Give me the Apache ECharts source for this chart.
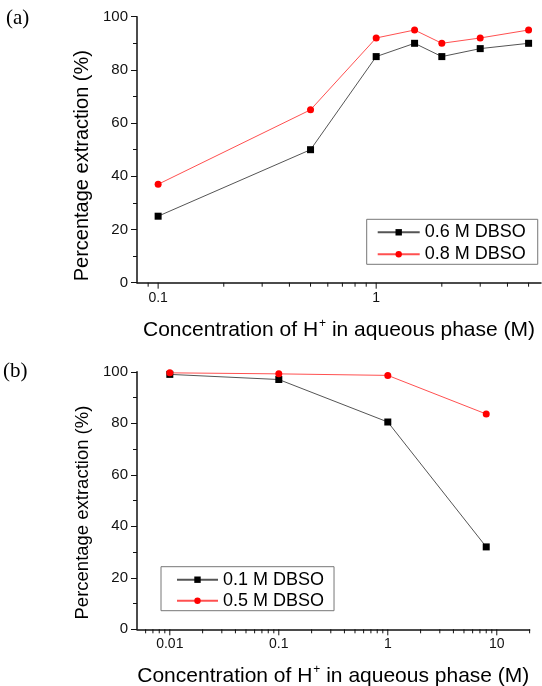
<!DOCTYPE html>
<html>
<head>
<meta charset="utf-8">
<script src="https://cdn.jsdelivr.net/npm/echarts@6/dist/echarts.min.js"></script>
<style>
html,body{margin:0;padding:0;background:#fff;}
#chart{width:542px;height:686px;}
</style>
</head>
<body>
<div id="chart"></div>
<script>
// ---- data ----
const xA = [0.1, 0.5, 1, 1.5, 2, 3, 5];
const seriesA06 = [25, 50, 85, 90, 85, 88, 90];
const seriesA08 = [37, 65, 92, 95, 90, 92, 95];
const xB = [0.01, 0.1, 1, 8];
const seriesB01 = [99, 97, 80.5, 32];
const seriesB05 = [99.6, 99.2, 98.6, 83.6];
const namesA = ['0.6 M DBSO', '0.8 M DBSO'];
const namesB = ['0.1 M DBSO', '0.5 M DBSO'];
const xTickLabelsA = [0.1, 1];
const xTickLabelsB = [0.01, 0.1, 1, 10];
const xTicksA = [0.09, 0.1, 0.2, 0.3, 0.4, 0.5, 0.6, 0.7, 0.8, 0.9, 1, 2, 3, 4, 5];
const xTicksB = [0.006, 0.007, 0.008, 0.009, 0.01, 0.02, 0.03, 0.04, 0.05, 0.06, 0.07, 0.08, 0.09,
                 0.1, 0.2, 0.3, 0.4, 0.5, 0.6, 0.7, 0.8, 0.9, 1, 2, 3, 4, 5, 6, 7, 8, 9, 10, 20];
const yTicks = [0, 20, 40, 60, 80, 100];
const xTitle = 'Concentration of H{sup|+} in aqueous phase (M)';
const yTitle = 'Percentage extraction (%)';

const chart = echarts.init(document.getElementById('chart'), null, {renderer: 'canvas'});
const FONT = 'Liberation Sans, Arial, sans-serif';

function isLabel(v, list) { return list.some(t => Math.abs(Math.log10(v) - Math.log10(t)) < 1e-6); }

function xAxisCfg(gridIndex, min, max, labels, nameGap, titleSize) {
  return {
    type: 'log', logBase: 10, gridIndex, min, max,
    axisLine: {lineStyle: {color: '#111', width: 1.5}},
    axisTick: {show: false},
    minorTick: {show: false},
    splitLine: {show: false},
    axisLabel: {
      fontFamily: FONT, fontSize: 14, color: '#111', margin: 8,
      showMinLabel: true, showMaxLabel: true,
      formatter: v => isLabel(v, labels) ? String(+v.toPrecision(6)) : ''
    },
    name: xTitle, nameLocation: 'middle', nameGap,
    nameTextStyle: {
      fontFamily: FONT, fontSize: titleSize, lineHeight: 26, color: '#000',
      rich: {sup: {fontFamily: FONT, fontSize: 12, lineHeight: 12, color: '#000', verticalAlign: 'top', padding: [0, 0, 0, 1]}}
    }
  };
}
function yAxisCfg(gridIndex, titleSize, shift) {
  return {
    type: 'value', gridIndex, min: yTicks[0], max: yTicks[yTicks.length - 1], interval: yTicks[1] - yTicks[0],
    axisLine: {show: true, lineStyle: {color: '#111', width: 1.5}},
    axisTick: {show: true, length: 6, lineStyle: {color: '#111', width: 1}},
    minorTick: {show: true, splitNumber: 2, length: 4, lineStyle: {color: '#111', width: 1}},
    splitLine: {show: false},
    minorSplitLine: {show: false},
    axisLabel: {fontFamily: FONT, fontSize: 15, color: '#111', margin: 9},
    name: yTitle, nameLocation: 'middle', nameGap: 42, nameRotate: 90,
    nameTextStyle: {fontFamily: FONT, fontSize: titleSize, color: '#000', padding: [0, shift, 0, 0]}
  };
}
function lineSeries(name, xs, ys, axisIdx, symbol, color, lineColor) {
  return {
    type: 'line', name, xAxisIndex: axisIdx, yAxisIndex: axisIdx,
    data: xs.map((x, i) => [x, ys[i]]),
    symbol, symbolSize: 7, showSymbol: true,
    lineStyle: {color: lineColor, width: 1},
    itemStyle: {color},
    emphasis: {disabled: true},
    animation: false, z: 3
  };
}
function tickSeries(ticks, axisIdx) {
  return {
    type: 'custom', xAxisIndex: axisIdx, yAxisIndex: axisIdx, silent: true, animation: false, clip: false,
    data: ticks.map(t => [t, 0]),
    renderItem: (params, api) => {
      const v = api.value(0);
      const major = Math.abs(Math.log10(v) - Math.round(Math.log10(v))) < 1e-6;
      const p = api.coord([v, 0]);
      const len = major ? 6 : 4;
      return {type: 'line', shape: {x1: p[0], y1: p[1], x2: p[0], y2: p[1] + len},
              style: {stroke: '#111', lineWidth: 1}};
    }
  };
}

const legendText = {fontFamily: FONT, fontSize: 18, color: '#000', lineHeight: 20};

const option = {
  backgroundColor: '#fff',
  animation: false,
  grid: [
    {left: 137, top: 16.7, right: 1, bottom: 403.3, containLabel: false, outerBoundsMode: 'none'},
    {left: 137, top: 371.8, right: 12.4, bottom: 56.7, containLabel: false, outerBoundsMode: 'none'}
  ],
  xAxis: [
    xAxisCfg(0, 0.08, 5.7, xTickLabelsA, 35, 21),
    xAxisCfg(1, 0.005, 20, xTickLabelsB, 34, 21)
  ],
  yAxis: [yAxisCfg(0, 20, 32), yAxisCfg(1, 18.5, 24)],
  legend: [
    {data: namesA, orient: 'vertical', left: 366.7, top: 219.3, itemWidth: 42, itemHeight: 8, itemGap: 2,
     padding: [3, 12, 0, 10], borderColor: '#777', borderWidth: 1, textStyle: legendText, selectedMode: false},
    {data: namesB, orient: 'vertical', left: 161, top: 566.7, itemWidth: 41, itemHeight: 8, itemGap: 1,
     padding: [3, 10, 0, 15], borderColor: '#777', borderWidth: 1, textStyle: legendText, selectedMode: false}
  ],
  graphic: [
    {type: 'text', left: 6, top: 8, style: {text: '(a)', font: '21px "Liberation Serif", "Times New Roman", serif', fill: '#000'}},
    {type: 'text', left: 3, top: 361, style: {text: '(b)', font: '21px "Liberation Serif", "Times New Roman", serif', fill: '#000'}}
  ],
  series: [
    lineSeries(namesA[0], xA, seriesA06, 0, 'rect', '#000', '#555'),
    lineSeries(namesA[1], xA, seriesA08, 0, 'circle', '#ff0000', '#ff5050'),
    lineSeries(namesB[0], xB, seriesB01, 1, 'rect', '#000', '#555'),
    lineSeries(namesB[1], xB, seriesB05, 1, 'circle', '#ff0000', '#ff5050'),
    tickSeries(xTicksA, 0),
    tickSeries(xTicksB, 1)
  ]
};
chart.setOption(option);
</script>
</body>
</html>
